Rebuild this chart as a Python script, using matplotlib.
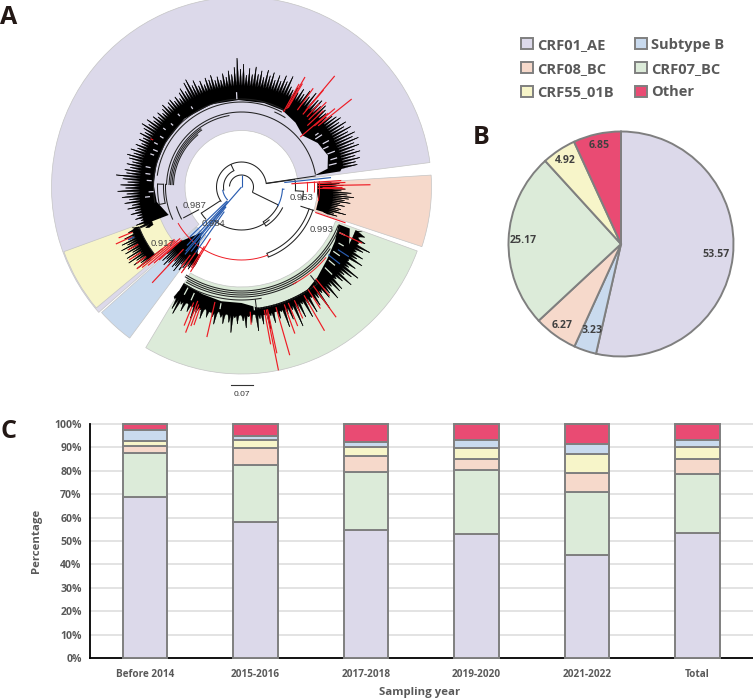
import numpy as np
import matplotlib
matplotlib.use('Agg')
import matplotlib.pyplot as plt
from matplotlib.patches import Wedge

W, H = 753, 700
plt.rcParams['font.family'] = ['Open Sans', 'DejaVu Sans']

# subtype colours
c_ae = '#dcd9ea'
c_b = '#c9daee'
c_08 = '#f6d9cb'
c_07 = '#dcebd9'
c_55 = '#f7f5c9'
c_other = '#e94b73'
edge = '#7f7f7f'
txt = '#595959'
RED = '#ee1c25'
BLUE = '#2a5db0'

# panel C, stacked bars
years = ['Before 2014', '2015-2016', '2017-2018', '2019-2020', '2021-2022', 'Total']
ae_year = [68.7, 58.2, 54.5, 53.0, 43.9, 53.6]
bc07_year = [18.6, 24.2, 25.0, 27.3, 27.0, 25.1]
bc08_year = [3.3, 7.1, 6.6, 4.8, 8.2, 6.4]
b55_year = [2.2, 3.4, 3.8, 4.4, 8.1, 4.8]
b_year = [4.7, 1.8, 2.1, 3.5, 4.0, 3.1]
other_year = [2.5, 5.3, 8.0, 7.0, 8.8, 7.0]

# panel B, pie
pie_vals = [53.57, 3.23, 6.27, 25.17, 4.92, 6.85]
pie_cols = [c_ae, c_b, c_08, c_07, c_55, c_other]
pie_dist = [0.85, 0.81, 0.89, 0.87, 0.89, 0.90]

# panel A, clade sectors: colour, angle from, angle to, inner r, outer r
sectors = [(c_ae, 7.4, 221.3, 56.5, 190),
           (c_55, 200, 219.8, 87, 189),
           (c_08, -18.3, 3.6, 76, 190),
           (c_07, -120.8, -20, 100, 187),
           (c_b, 221.9, 233.5, 60, 188)]

# panel A, tip radii read round the tree, one list per clade
ae_tips = [104, 110, 112, 106, 111, 108, 114, 109, 116, 111, 118, 113, 120, 115, 124, 116, 121, 114, 119, 126,
           116, 118, 113, 117, 112, 116, 119, 113, 117, 111, 114, 109, 113, 110, 115, 111, 114, 118, 112, 116,
           110, 113, 109, 112, 108, 111, 114, 109, 112, 113, 109, 112, 108, 113, 116, 111, 119, 121, 113, 117,
           110, 114, 109, 115, 112, 116, 110, 113, 109, 115, 111, 117, 113, 120, 129, 118, 123, 112, 119, 113,
           121, 114, 118, 112, 120, 115, 119, 112, 118, 113, 120, 115, 122, 112, 110, 114, 110, 116, 112, 118,
           113, 120, 114, 116, 118, 113, 117, 114, 112, 110, 115, 118, 121, 117, 123, 119, 125, 120, 126, 122,
           127, 121, 125, 119, 124, 118, 122, 117, 118]
c07_tips = [130, 140, 144, 132, 138, 128, 136, 130, 141, 134,
            130, 138, 127, 135, 129, 133, 140, 126, 132, 138, 128, 136,
            146, 131, 137, 128, 134, 141, 130, 136, 127, 145, 133, 139,
            130, 145, 132, 140, 128, 137, 131, 148, 135, 142, 133, 152, 138, 145, 132, 148,
            136, 146, 131, 142, 135, 150, 133, 141, 138, 147, 134, 143,
            143, 132, 138, 147, 135, 142, 148, 134, 140, 130, 144, 136, 141, 132,
            138, 144, 130, 136, 127, 133, 125]
c08_tips = [98, 102, 96, 104, 100, 110, 106, 113, 108, 104, 110, 100, 105, 98, 102, 100, 108, 96, 100]
c55_tips = [113, 122, 118, 128, 125, 133, 128, 136, 130, 134, 127, 135, 129, 136, 128, 133, 126, 132]
cb_tips = [100, 108, 104, 110, 105, 108, 100, 106, 103, 108, 98, 104, 100, 102, 96, 98, 92, 95]

# angle from, angle to, radius the spikes start at, radius between spikes
tip_ranges = [(ae_tips, 203, 11, 96, 101), (c07_tips, -121, -21, 122, 129), (c08_tips, 2, -17, 86, 90),
              (c55_tips, 201, 218, 112, 117), (cb_tips, 222, 239, 80, 90)]

# solid part of each clade: angle, inner r, outer r
ae_body = [(201, 78, 104), (190, 86, 103), (178, 88, 102), (165, 88, 102), (150, 88, 102), (130, 89, 102),
           (110, 88, 102), (92, 87, 102), (75, 87, 102), (62, 87, 102), (50, 84, 103), (40, 80, 104),
           (30, 88, 104), (20, 92, 104), (12, 88, 104), (9, 74, 100)]
c07_body = [(-121, 112, 124), (-110, 114, 126), (-100, 116, 127), (-90, 116, 127), (-80, 124, 130), (-70, 124, 130),
            (-60, 124, 130), (-50, 118, 130), (-40, 112, 128), (-30, 108, 124), (-21, 104, 116)]
c08_body = [(3, 76, 90), (-5, 76, 92), (-10, 78, 92), (-17, 78, 90)]
c55_body = [(201, 110, 116), (207, 110, 117), (213, 110, 118), (218, 110, 118)]
cb_body = [(221, 85, 90), (225, 70, 92), (229, 60, 92), (233, 70, 90), (238, 85, 88)]

# pale flecks inside the solid part: angle, r from, r to
ae_gaps = [(186, 92, 97), (183, 88, 93), (176, 90, 95), (172, 92, 97), (168, 93, 98), (160, 93, 97), (157, 91, 96),
           (153, 94, 98), (148, 92, 96), (143, 95, 98), (138, 92, 95), (131, 94, 97), (122, 92, 95), (93, 88, 95),
           (35, 90, 94), (33, 88, 96), (28, 92, 99), (25, 90, 96), (21, 92, 100), (17, 93, 100), (14, 90, 98)]
c07_gaps = [(-118, 114, 122), (-114, 116, 124), (-100, 118, 124), (-84, 118, 124), (-44, 116, 126),
            (-40, 114, 122), (-35, 112, 120), (-30, 112, 118), (-25, 108, 114)]

# coloured tips: angle, r from, r to
red_tips = [(60, 90, 127), (60.8, 86, 118), (59.5, 92, 120), (54, 95, 122), (50, 100, 145), (49.8, 95, 127),
            (45, 95, 120), (47, 96, 114), (43, 90, 112), (40, 95, 122), (38.6, 98, 141), (40.4, 77, 114), (152, 100, 103),
            (-78.6, 125, 187), (-78, 125, 170), (-79.5, 125, 160), (-74, 125, 175), (-70, 125, 156), (-68, 125, 150),
            (-65, 125, 145), (-60, 125, 166), (-54, 122, 161), (-57, 122, 145), (-103, 118, 154), (-111, 122, 156),
            (-112.5, 125, 150), (-110, 125, 148), (-109, 128, 146), (-86, 125, 138), (-51, 118, 140), (-25, 108, 133),
            (1, 76, 129), (-1, 76, 103), (2.5, 76, 104), (-19, 78, 110), (0, 80, 100), (3.7, 50, 100),
            (202.5, 118, 133), (204.4, 120, 138), (209, 118, 130), (213, 120, 134), (216, 118, 130),
            (218, 85, 133), (219, 85, 128), (220, 80, 122), (221, 85, 116), (221.5, 80, 110),
            (227, 85, 131), (235, 80, 105), (239, 60, 99), (238, 70, 95), (233, 85, 100)]
blue_tips = [(229, 0, 85), (227, 20, 80), (232, 25, 82), (235, 30, 80), (224, 20, 72), (230, 25, 88),
             (6, 43, 90), (-33, 115, 128), (205, 118, 125), (-38, 110, 125)]

# tree branches: arcs are r, angle from, angle to; rays are angle, r from, r to
black_arcs = [(12, -22, 175), (18, 115, 190), (25, 8, 215), (43, 230, 310), (41, -58, -27), (46, -58, -27),
              (71, -69, -18), (75, -69, -18), (54, -4, 7), (62, -12, -4), (48, 213, 222), (68, 197, 208),
              (85, 62, 172), (88, 60, 190), (78, 178, 192), (84, 178, 192), (75, 10, 178), (72.5, 100, 178),
              (71, 125, 178), (69.5, 125, 178), (68, 130, 178), (76, 178, 205), (82, 58, 66),
              (104, -122, -22), (106, -122, -22), (108, -120, -35), (110, -120, -60), (113, -120, -80),
              (123, -83, -52), (110, 202, 218)]
black_rays = [(-26, 12, 41), (8, 25, 54), (115, 18, 25), (-58, 41, 46), (-69, 71, 75), (8.5, 25, 75),
              (213, 25, 48), (208, 48, 66), (-4, 54, 62), (178, 78, 84), (192, 78, 84), (-83, 113, 123), (-52, 112, 123),
              (202, 100, 112), (218, 100, 112), (-18, 62, 76)]
red_arcs = [(73, 210, 291), (66, -4, 4), (73, -4, 4), (78, -10, 4), (110, -62, -40)]
blue_arcs = [(19, 190, 222), (41, -27, -3)]
blue_rays = [(90, 0, 12), (-3, 41, 43)]

node_labels = ['0.987', '0.984', '0.917', '0.953', '0.993']
node_x = [195, 214, 163, 302, 322]
node_y = [206, 224, 243, 198, 229]


def ray(ax, ang, r1, r2, col, lw):
	a = np.radians(ang)
	ax.plot([r1*np.cos(a), r2*np.cos(a)], [r1*np.sin(a), r2*np.sin(a)], color=col, lw=lw, solid_capstyle='butt')


def arc(ax, r, a1, a2, col, lw):
	a = np.radians(np.arange(a1, a2+0.5, 0.5))
	ax.plot(r*np.cos(a), r*np.sin(a), color=col, lw=lw)


def add_axes_px(x0, y0, x1, y1):
	#pixel box measured from the top left corner of the picture
	return fig.add_axes([x0/W, 1-y1/H, (x1-x0)/W, (y1-y0)/H])


fig = plt.figure(figsize=(W/100, H/100), dpi=100)

#### panel A
ax1 = add_axes_px(0, 0, 460, 400)
ax1.set_xlim(-241.5, 218.5)
ax1.set_ylim(-213, 187)
ax1.axis('off')

for col, a1, a2, r_in, r_out in sectors:
	ax1.add_patch(Wedge((0, 0), r_out, a1, a2, width=r_out-r_in, fc=col, ec='#c4c4c4', lw=0.5))

for r, a1, a2 in black_arcs:
	arc(ax1, r, a1, a2, '#222222', 0.75)
for ang, r1, r2 in black_rays:
	ray(ax1, ang, r1, r2, '#222222', 0.75)
for r, a1, a2 in red_arcs:
	arc(ax1, r, a1, a2, RED, 0.7)
for r, a1, a2 in blue_arcs:
	arc(ax1, r, a1, a2, BLUE, 0.8)
for ang, r1, r2 in blue_rays:
	ray(ax1, ang, r1, r2, BLUE, 0.8)

for body in [ae_body, c07_body, c08_body, c55_body, cb_body]:
	b = np.array(body, dtype=float)
	a = np.radians(b[:, 0])
	xs = np.r_[b[:, 2]*np.cos(a), (b[:, 1]*np.cos(a))[::-1]]
	ys = np.r_[b[:, 2]*np.sin(a), (b[:, 1]*np.sin(a))[::-1]]
	ax1.fill(xs, ys, color='black', lw=0)

for tips, a1, a2, start, valley in tip_ranges:
	angs = np.linspace(a1, a2, len(tips))
	half = 0.5*(angs[1]-angs[0])
	#sawtooth outline so the hairs merge towards the base, back along the start radius
	saw_a = np.ravel(np.column_stack([angs-half, angs]))
	saw_r = np.ravel(np.column_stack([np.full(len(tips), valley), tips]))
	a = np.radians(np.r_[saw_a, angs[-1]+half, angs[::-1]])
	r = np.r_[saw_r, valley, np.full(len(tips), start)]
	ax1.fill(r*np.cos(a), r*np.sin(a), color='black', lw=0.2)
	for ang, tip in zip(angs, tips):
		ray(ax1, ang, start, tip, 'black', 0.55)

for ang, r1, r2 in ae_gaps:
	ray(ax1, ang, r1, r2, c_ae, 0.9)
for ang, r1, r2 in c07_gaps:
	ray(ax1, ang, r1, r2, c_07, 0.9)

for ang, r1, r2 in red_tips:
	ray(ax1, ang, r1, r2, RED, 0.85)
for ang, r1, r2 in blue_tips:
	ray(ax1, ang, r1, r2, BLUE, 0.85)

for lab, x, y in zip(node_labels, node_x, node_y):
	ax1.text(x-241.5, 187-y, lab, ha='center', va='center', fontsize=6.8, color='#444444', family='Liberation Sans')

ax1.plot([-11, 11], [-198, -198], color='#333333', lw=0.8)
ax1.text(0, -207, '0.07', ha='center', va='center', fontsize=6, color='#333333', family='Liberation Sans')

#### panel B
ax2 = add_axes_px(506, 129, 736, 359)
wedges, _ = ax2.pie(pie_vals, colors=pie_cols, startangle=90, counterclock=False, radius=112.5,
	wedgeprops={'edgecolor': edge, 'linewidth': 1.4})
ax2.set_xlim(-115, 115)
ax2.set_ylim(-115, 115)
for w, v, d in zip(wedges, pie_vals, pie_dist):
	a = np.radians(0.5*(w.theta1+w.theta2))
	ax2.text(112.5*d*np.cos(a), 112.5*d*np.sin(a), '{:.2f}'.format(v), ha='center', va='center',
		fontsize=7.6, fontweight='bold', color='#404040')

#### panel C
ax3 = add_axes_px(90, 423.7, 753, 658.3)
x = np.arange(len(years))
series = [(ae_year, c_ae, 'CRF01_AE'), (bc07_year, c_07, 'CRF07_BC'), (bc08_year, c_08, 'CRF08_BC'),
          (b55_year, c_55, 'CRF55_01B'), (b_year, c_b, 'Subtype B'), (other_year, c_other, 'Other')]
bottom = np.zeros(len(years))
handles = {}
for vals, col, name in series:
	handles[name] = ax3.bar(x, vals, 0.40, bottom=bottom, color=col, edgecolor=edge, linewidth=1.4, zorder=3, clip_on=False)
	bottom = bottom+np.array(vals)
ax3.set_xlim(-0.498, 5.502)
ax3.set_ylim(0, 100)
ax3.set_yticks(np.arange(0, 101, 10))
ax3.set_yticklabels(['{}%'.format(v) for v in range(0, 101, 10)], fontsize=7.6, fontweight='bold', color=txt)
ax3.set_xticks(x)
ax3.set_xticklabels(years, fontsize=7.2, fontweight='bold', color=txt)
ax3.tick_params(axis='both', length=0, pad=8)
ax3.tick_params(axis='y', pad=6)
ax3.grid(axis='y', color='#dedede', lw=1.2, zorder=0, clip_on=False)
ax3.set_axisbelow(True)
for s in ['top', 'right']:
	ax3.spines[s].set_visible(False)
ax3.spines['left'].set_linewidth(1.3)
ax3.spines['bottom'].set_linewidth(1.3)
ax3.set_ylabel('Percentage', fontsize=8.2, fontweight='bold', color=txt, labelpad=8.5)
fig.text(420/W, 1-693/H, 'Sampling year', ha='center', va='center', fontsize=8.2, fontweight='bold', color=txt)

#### legend and panel letters
order = ['CRF01_AE', 'CRF08_BC', 'CRF55_01B', 'Subtype B', 'CRF07_BC', 'Other']
leg = fig.legend([handles[n][0] for n in order], order, ncol=2, frameon=False, loc='upper left',
	bbox_to_anchor=(508/W, 1-24.5/H), prop={'size': 10.5, 'weight': 'bold'}, labelcolor=txt,
	handlelength=0.82, handleheight=0.82, handletextpad=0.28, columnspacing=1.45, labelspacing=0.68)

for lab, px, py in [('A', 0, 18), ('B', 473, 138), ('C', 1, 432)]:
	fig.text(px/W, 1-py/H, lab, fontsize=18, fontweight='bold', color='#231815', ha='left', va='center')

plt.savefig('out.png', dpi=100)
